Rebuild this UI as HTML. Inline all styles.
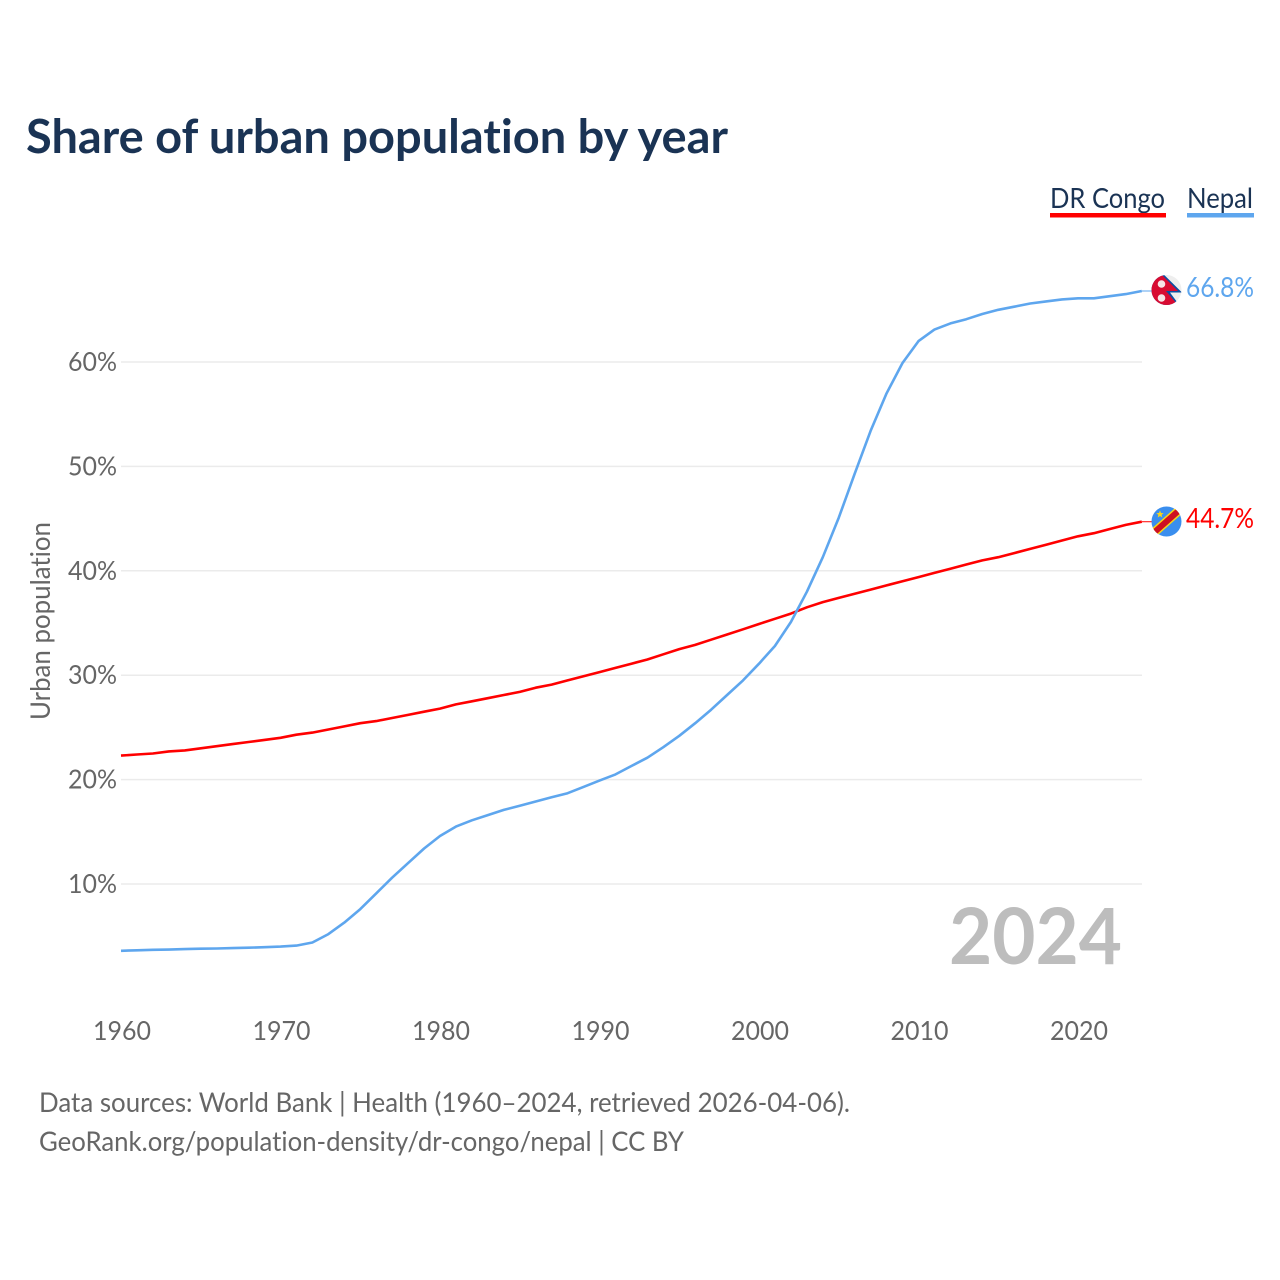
<!DOCTYPE html>
<html lang="en">
<head>
<meta charset="utf-8">
<title>Share of urban population by year</title>
<style>
html,body{margin:0;padding:0;background:#fff;width:1280px;height:1280px;overflow:hidden}
svg{display:block}
text{font-family:"Lato","Carlito","Liberation Sans",sans-serif;font-variant-ligatures:none}
</style>
</head>
<body>
<svg id="chart" xmlns="http://www.w3.org/2000/svg" width="1280" height="1280" viewBox="0 0 1280 1280">
  <text x="26" y="153" font-size="47" font-weight="700" fill="#1a3354" textLength="702" lengthAdjust="spacingAndGlyphs">Share of urban population by year</text>

  <g>
    <g>
      <text x="1050" y="208" font-size="28" fill="#1a3354" textLength="115" lengthAdjust="spacingAndGlyphs">DR Congo</text>
      <rect x="1050" y="213" width="116" height="4.500" fill="#ff0000"/>
    </g>
    <g>
      <text x="1187" y="208" font-size="28" fill="#1a3354" textLength="66" lengthAdjust="spacingAndGlyphs">Nepal</text>
      <rect x="1187" y="213" width="67" height="4.500" fill="#5ea6ee"/>
    </g>
  </g>

  <g id="grid"></g>
  <g id="yticks"></g>
  <g id="xticks"></g>
  <text transform="translate(50,621) rotate(-90)" text-anchor="middle" font-size="27" fill="#666666" textLength="198" lengthAdjust="spacingAndGlyphs">Urban population</text>

  <text x="1122" y="964" text-anchor="end" font-size="78" font-weight="700" fill="#bdbdbd" textLength="173" lengthAdjust="spacingAndGlyphs">2024</text>

  <g id="series"></g>

  <defs>
    <clipPath id="flag-clip-np"><circle cx="1166.500" cy="290" r="15"/></clipPath>
    <clipPath id="flag-clip-cd"><circle cx="1166.500" cy="521.500" r="15"/></clipPath>
  </defs>

  <g clip-path="url(#flag-clip-np)">
    <rect x="1151" y="275" width="31" height="30" fill="#eeeeee"/>
    <polygon points="1148,259 1182,292.500 1170,292.500 1180,306 1148,310" fill="#0b4ea2"/>
    <polygon points="1148,261 1178,291 1166,291 1177,304 1148,310" fill="#d80b32"/>
    <circle cx="1161.500" cy="284" r="3.800" fill="#f6e4e6"/>
    <circle cx="1161.500" cy="298" r="3.800" fill="#f6e4e6"/>
  </g>

  <g clip-path="url(#flag-clip-cd)">
    <rect x="1151" y="506" width="31" height="31" fill="#3a8eee"/>
    <line x1="1149" y1="537" x2="1184" y2="506" stroke="#f7d618" stroke-width="9"/>
    <line x1="1149" y1="537" x2="1184" y2="506" stroke="#ce1021" stroke-width="6"/>
    <polygon points="1160,510.500 1161,513 1163.700,513.200 1161.600,514.900 1162.300,517.500 1160,516 1157.700,517.500 1158.400,514.900 1156.300,513.200 1159,513" fill="#f7d618"/>
  </g>

  <text x="1186" y="297" font-size="28" fill="#5ea6ee" textLength="68" lengthAdjust="spacingAndGlyphs">66.8%</text>
  <text x="1186" y="528" font-size="28" fill="#ff0000" textLength="68" lengthAdjust="spacingAndGlyphs">44.7%</text>

  <g>
    <text x="39" y="1112" font-size="27" fill="#666666" textLength="811" lengthAdjust="spacingAndGlyphs">Data sources: World Bank | Health (1960–2024, retrieved 2026-04-06).</text>
    <text x="39" y="1151" font-size="27" fill="#666666" textLength="645" lengthAdjust="spacingAndGlyphs">GeoRank.org/population-density/dr-congo/nepal | CC BY</text>
  </g>
</svg>

<script>
const years = [1960,1961,1962,1963,1964,1965,1966,1967,1968,1969,1970,1971,1972,1973,1974,1975,1976,1977,1978,1979,1980,1981,1982,1983,1984,1985,1986,1987,1988,1989,1990,1991,1992,1993,1994,1995,1996,1997,1998,1999,2000,2001,2002,2003,2004,2005,2006,2007,2008,2009,2010,2011,2012,2013,2014,2015,2016,2017,2018,2019,2020,2021,2022,2023,2024];
const nepalValues = [3.6,3.65,3.7,3.72,3.76,3.8,3.82,3.86,3.9,3.95,4.0,4.1,4.4,5.2,6.3,7.6,9.1,10.6,12.0,13.4,14.6,15.5,16.1,16.6,17.1,17.5,17.9,18.3,18.7,19.3,19.9,20.5,21.3,22.1,23.1,24.2,25.4,26.7,28.1,29.5,31.1,32.8,35.1,38.0,41.3,45.1,49.3,53.4,57.0,59.9,62.0,63.1,63.7,64.1,64.6,65.0,65.3,65.6,65.8,66.0,66.1,66.1,66.3,66.5,66.8];
const congoValues = [22.3,22.4,22.5,22.7,22.8,23.0,23.2,23.4,23.6,23.8,24.0,24.3,24.5,24.8,25.1,25.4,25.6,25.9,26.2,26.5,26.8,27.2,27.5,27.8,28.1,28.4,28.8,29.1,29.5,29.9,30.3,30.7,31.1,31.5,32.0,32.5,32.9,33.4,33.9,34.4,34.9,35.4,35.9,36.5,37.0,37.4,37.8,38.2,38.6,39.0,39.4,39.8,40.2,40.6,41.0,41.3,41.7,42.1,42.5,42.9,43.3,43.6,44.0,44.4,44.7];
const yTickValues = [10,20,30,40,50,60];
const xTickValues = [1960,1970,1980,1990,2000,2010,2020];

const SVG_NS = 'http://www.w3.org/2000/svg';
const plotLeft = 121;
const plotRight = 1142;
function xScale(year) { return 121 + (year - 1960) * 15.95; }
function yScale(value) { return 988.4 - value * 10.44; }

function make(tag, attrs, parent) {
  const el = document.createElementNS(SVG_NS, tag);
  for (const k in attrs) el.setAttribute(k, attrs[k]);
  parent.appendChild(el);
  return el;
}

const grid = document.getElementById('grid');
const yticks = document.getElementById('yticks');
const xticks = document.getElementById('xticks');
const series = document.getElementById('series');

yTickValues.forEach(function (v) {
  const line = make('line', {x1: plotLeft, x2: plotRight, y1: yScale(v), y2: yScale(v), stroke: '#ebebeb', 'stroke-width': 1.5}, grid);
  
  
  const label = make('text', {x: 117, y: yScale(v) + 9, 'text-anchor': 'end', 'font-size': 26, fill: '#666666', textLength: 49, lengthAdjust: 'spacingAndGlyphs'}, yticks);
  
  
  label.textContent = v + '%';
});

xTickValues.forEach(function (year) {
  const label = make('text', {x: xScale(year) + 1, y: 1040, 'text-anchor': 'middle', 'font-size': 26, fill: '#666666', textLength: 58, lengthAdjust: 'spacingAndGlyphs'}, xticks);
  
  
  label.textContent = year;
});

function drawSeries(values, color, name) {
  const pts = values.map(function (v, i) { return xScale(years[i]).toFixed(1) + ',' + yScale(v).toFixed(1); });
  const line = make('polyline', {points: pts.join(' '), fill: 'none', stroke: color, 'stroke-width': 2.6, 'stroke-linejoin': 'round'}, series);
  
  
  const lastY = yScale(values[values.length - 1]);
  const leader = make('line', {x1: xScale(years[years.length - 1]), x2: 1152, y1: lastY, y2: lastY, stroke: color, 'stroke-width': 1}, series);
  
  
}

drawSeries(congoValues, '#ff0000', 'series-line-dr-congo');
drawSeries(nepalValues, '#5ea6ee', 'series-line-nepal');
</script>
</body>
</html>
